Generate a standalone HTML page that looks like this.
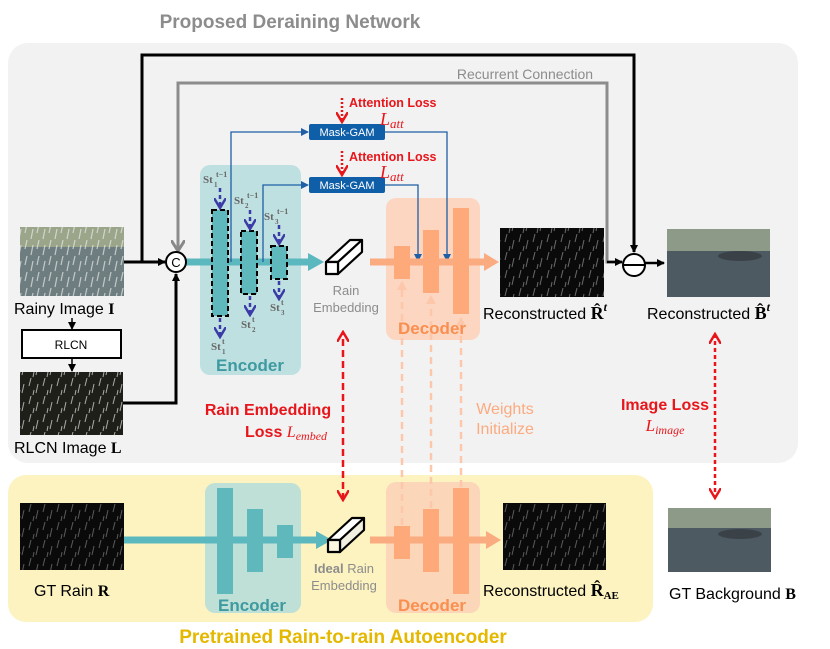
<!DOCTYPE html>
<html><head><meta charset="utf-8"><style>
html,body{margin:0;padding:0;background:#fff;width:830px;height:649px;overflow:hidden}
svg{display:block;font-family:"Liberation Sans","DejaVu Sans",sans-serif}
</style></head><body>
<svg width="830" height="649" viewBox="0 0 830 649" xmlns="http://www.w3.org/2000/svg">
<defs>
<marker id="ab" markerWidth="8" markerHeight="8" refX="7" refY="4" orient="auto" markerUnits="userSpaceOnUse"><path d="M0,0 L8,4 L0,8 z" fill="#000"/></marker>
<marker id="ag" markerWidth="14" markerHeight="14" refX="10" refY="7" orient="auto" markerUnits="userSpaceOnUse"><path d="M0,0 L11,7 L0,14" fill="none" stroke="#888" stroke-width="3"/></marker>
<marker id="abl" markerWidth="8" markerHeight="8" refX="7" refY="4" orient="auto" markerUnits="userSpaceOnUse"><path d="M0,0 L8,4 L0,8 z" fill="#1f5fa6"/></marker>
<marker id="ar" markerWidth="12" markerHeight="12" refX="10" refY="6" orient="auto" markerUnits="userSpaceOnUse"><path d="M0,0 L10,6 L0,12" fill="none" stroke="#e8161b" stroke-width="2.5"/></marker>
<marker id="arf" markerWidth="12" markerHeight="12" refX="10" refY="6" orient="auto-start-reverse" markerUnits="userSpaceOnUse"><path d="M0,0 L10,6 L0,12" fill="none" stroke="#e8161b" stroke-width="2.5"/></marker>
<marker id="ap" markerWidth="10" markerHeight="10" refX="8" refY="5" orient="auto" markerUnits="userSpaceOnUse"><path d="M0,0 L9,5 L0,10 z" fill="#fcc7aa"/></marker>
<marker id="apu" markerWidth="12" markerHeight="12" refX="10" refY="6" orient="auto" markerUnits="userSpaceOnUse"><path d="M0,0 L10,6 L0,12" fill="none" stroke="#3b3ba8" stroke-width="2.5"/></marker>
<pattern id="rain" width="14" height="18" patternUnits="userSpaceOnUse"><path d="M3,0 L1,8 M10,6 L8,15 M6,12 L5,17" stroke="#aaa" stroke-width="1"/></pattern>
<pattern id="rainw" width="12" height="16" patternUnits="userSpaceOnUse"><path d="M3,0 L1,9 M9,5 L7,15" stroke="#e8e8e8" stroke-width="1.2"/></pattern>
</defs>
<text x="290" y="28" text-anchor="middle" font-size="19" font-weight="bold" fill="#8c8c8c">Proposed Deraining Network</text>
<rect x="8" y="43" width="790" height="420" rx="20" fill="#f2f2f2"/>
<rect x="8" y="475" width="645" height="147" rx="18" fill="#fdf3c0"/>
<text x="343" y="643" text-anchor="middle" font-size="19" font-weight="bold" fill="#e5b800">Pretrained Rain-to-rain Autoencoder</text>

<rect x="200" y="165" width="101" height="210" rx="10" fill="#bfe0e0"/>
<rect x="386" y="198" width="94" height="142" rx="10" fill="#fcd6c0"/>
<rect x="205" y="483" width="96" height="130" rx="10" fill="#bfe0d6"/>
<rect x="386" y="482" width="94" height="131" rx="10" fill="#fcd6b8"/>

<rect x="20" y="227" width="104" height="69" fill="#6e7e80"/>
<rect x="20" y="227" width="104" height="20" fill="#9aa58a"/>
<rect x="20" y="227" width="104" height="69" fill="url(#rainw)" opacity="0.7"/>
<rect x="20" y="372" width="103" height="63" fill="#1f1f1a"/>
<rect x="20" y="372" width="103" height="63" fill="url(#rain)"/>
<rect x="500" y="228" width="104" height="69" fill="#0a0a0a"/>
<rect x="500" y="228" width="104" height="69" fill="url(#rain)" opacity="0.6"/>
<rect x="667" y="229" width="103" height="68" fill="#4d5a62"/>
<rect x="667" y="229" width="103" height="22" fill="#8e9a88"/>
<ellipse cx="740" cy="256" rx="22" ry="5" fill="#3a4248"/>
<rect x="20" y="503" width="104" height="67" fill="#0a0a0a"/>
<rect x="20" y="503" width="104" height="67" fill="url(#rain)" opacity="0.5"/>
<rect x="503" y="503" width="103" height="67" fill="#0a0a0a"/>
<rect x="503" y="503" width="103" height="67" fill="url(#rain)" opacity="0.5"/>
<rect x="668" y="508" width="103" height="64" fill="#4d5a62"/>
<rect x="668" y="508" width="103" height="20" fill="#8e9a88"/>
<ellipse cx="740" cy="534" rx="22" ry="5" fill="#3a4248"/>

<rect x="22" y="330" width="99" height="28" fill="#fff" stroke="#000" stroke-width="2"/>
<text x="71" y="349" text-anchor="middle" font-size="12">RLCN</text>
<line x1="72" y1="318" x2="72" y2="329" stroke="#000" stroke-width="1.5" marker-end="url(#ab)"/>
<line x1="72" y1="358" x2="72" y2="371" stroke="#000" stroke-width="1.5" marker-end="url(#ab)"/>

<line x1="124" y1="262" x2="165" y2="262" stroke="#000" stroke-width="3" marker-end="url(#ab)"/>
<polyline points="123,403 176,403 176,274" fill="none" stroke="#000" stroke-width="3" marker-end="url(#ab)"/>
<polyline points="142,262 142,55 634,55 634,252" fill="none" stroke="#000" stroke-width="3" marker-end="url(#ab)"/>
<polyline points="178,250 178,83 607,83 607,262 622,262" fill="none" stroke="#8c8c8c" stroke-width="3"/>
<line x1="607" y1="262" x2="622" y2="262" stroke="#000" stroke-width="2.5" marker-end="url(#ab)"/>
<line x1="178" y1="236" x2="178" y2="250" stroke="#8c8c8c" stroke-width="3" marker-end="url(#ag)"/>
<line x1="645" y1="263" x2="664" y2="263" stroke="#000" stroke-width="2.5" marker-end="url(#ab)"/>
<text x="525" y="79" text-anchor="middle" font-size="14" fill="#8c8c8c">Recurrent Connection</text>

<line x1="186" y1="262" x2="310" y2="262" stroke="#5cb8bf" stroke-width="7"/>
<path d="M308,253 L324,262 L308,271 z" fill="#5cb8bf"/>
<line x1="124" y1="540" x2="318" y2="540" stroke="#5cb8bf" stroke-width="7"/>
<path d="M316,531 L332,540 L316,549 z" fill="#5cb8bf"/>
<circle cx="176" cy="262" r="10" fill="#fff" stroke="#000" stroke-width="2"/>
<text x="176" y="267" text-anchor="middle" font-size="13">C</text>
<circle cx="634" cy="265" r="11" fill="#fff" stroke="#000" stroke-width="2"/>
<line x1="623" y1="265" x2="645" y2="265" stroke="#000" stroke-width="2"/>

<rect x="212" y="210" width="16" height="106" fill="#5fb8bc" stroke="#000" stroke-width="2" stroke-dasharray="5,3"/>
<rect x="241" y="231" width="16" height="63" fill="#5fb8bc" stroke="#000" stroke-width="2" stroke-dasharray="5,3"/>
<rect x="271" y="246" width="16" height="33" fill="#5fb8bc" stroke="#000" stroke-width="2" stroke-dasharray="5,3"/>
<g stroke="#3b3ba8" stroke-width="2.5" stroke-dasharray="4,3" fill="none">
<line x1="220" y1="188" x2="220" y2="208" marker-end="url(#apu)"/>
<line x1="220" y1="318" x2="220" y2="337" marker-end="url(#apu)"/>
<line x1="250" y1="210" x2="250" y2="229" marker-end="url(#apu)"/>
<line x1="250" y1="296" x2="250" y2="315" marker-end="url(#apu)"/>
<line x1="279" y1="225" x2="279" y2="244" marker-end="url(#apu)"/>
<line x1="279" y1="281" x2="279" y2="299" marker-end="url(#apu)"/>
</g>
<g font-family="Liberation Serif,serif" font-weight="bold" fill="#666">
<text x="203" y="183" font-size="11">St</text><text x="214" y="187" font-size="7">1</text><text x="216" y="177" font-size="8">t−1</text>
<text x="234" y="204" font-size="11">St</text><text x="245" y="208" font-size="7">2</text><text x="247" y="198" font-size="8">t−1</text>
<text x="264" y="220" font-size="11">St</text><text x="275" y="224" font-size="7">3</text><text x="277" y="214" font-size="8">t−1</text>
<text x="211" y="350" font-size="11">St</text><text x="222" y="354" font-size="7">1</text><text x="222" y="344" font-size="8">t</text>
<text x="241" y="328" font-size="11">St</text><text x="252" y="332" font-size="7">2</text><text x="252" y="322" font-size="8">t</text>
<text x="270" y="311" font-size="11">St</text><text x="281" y="315" font-size="7">3</text><text x="281" y="305" font-size="8">t</text>
</g>
<text x="250" y="371" text-anchor="middle" font-size="17" font-weight="bold" fill="#3e9aa0">Encoder</text>

<polyline points="231,262 231,132 308,132" fill="none" stroke="#1f5fa6" stroke-width="1.3" marker-end="url(#abl)"/>
<polyline points="263,262 263,185 308,185" fill="none" stroke="#1f5fa6" stroke-width="1.3" marker-end="url(#abl)"/>
<polyline points="385,132 447,132 447,261" fill="none" stroke="#1f5fa6" stroke-width="1.3" marker-end="url(#abl)"/>
<polyline points="385,185 418,185 418,261" fill="none" stroke="#1f5fa6" stroke-width="1.3" marker-end="url(#abl)"/>
<rect x="309" y="124" width="76" height="16" rx="2" fill="#0f5ea8"/>
<text x="347" y="136" text-anchor="middle" font-size="11" fill="#fff">Mask-GAM</text>
<rect x="309" y="177" width="76" height="16" rx="2" fill="#0f5ea8"/>
<text x="347" y="189" text-anchor="middle" font-size="11" fill="#fff">Mask-GAM</text>
<line x1="342" y1="98" x2="342" y2="122" stroke="#e8161b" stroke-width="2.5" stroke-dasharray="2,2" marker-end="url(#ar)"/>
<line x1="342" y1="151" x2="342" y2="175" stroke="#e8161b" stroke-width="2.5" stroke-dasharray="2,2" marker-end="url(#ar)"/>
<text x="349" y="107" font-size="12.5" font-weight="bold" fill="#e8161b">Attention Loss</text>
<text x="380" y="125" font-family="Liberation Serif,serif" font-style="italic" font-size="18" fill="#e8161b">L<tspan font-size="13" dy="3">att</tspan></text>
<text x="349" y="161" font-size="12.5" font-weight="bold" fill="#e8161b">Attention Loss</text>
<text x="380" y="178" font-family="Liberation Serif,serif" font-style="italic" font-size="18" fill="#e8161b">L<tspan font-size="13" dy="3">att</tspan></text>

<line x1="370" y1="262" x2="486" y2="262" stroke="#fbab80" stroke-width="7"/>
<path d="M484,253 L499,262 L484,271 z" fill="#fbab80"/>
<line x1="370" y1="540" x2="488" y2="540" stroke="#fbab80" stroke-width="7"/>
<path d="M486,531 L501,540 L486,549 z" fill="#fbab80"/>
<g fill="#fea97a">
<rect x="394" y="246" width="16" height="33"/><rect x="423" y="230" width="16" height="63"/><rect x="453" y="208" width="16" height="106"/>
<rect x="394" y="526" width="16" height="33"/><rect x="423" y="509" width="16" height="63"/><rect x="453" y="488" width="16" height="106"/>
</g>
<g stroke="#fcc7aa" stroke-width="2.5" stroke-dasharray="7,5">
<line x1="402" y1="525" x2="402" y2="282" marker-end="url(#ap)"/>
<line x1="431" y1="508" x2="431" y2="296" marker-end="url(#ap)"/>
<line x1="461" y1="487" x2="461" y2="318" marker-end="url(#ap)"/>
</g>
<text x="432" y="334" text-anchor="middle" font-size="17" font-weight="bold" fill="#f98f50">Decoder</text>
<text x="432" y="611" text-anchor="middle" font-size="17" font-weight="bold" fill="#f98f50">Decoder</text>

<g fill="#5fb8bc"><rect x="217" y="488" width="16" height="106"/><rect x="247" y="509" width="16" height="63"/><rect x="277" y="525" width="16" height="33"/></g>
<text x="252" y="611" text-anchor="middle" font-size="17" font-weight="bold" fill="#3e9aa0">Encoder</text>

<g stroke="#000" stroke-width="2.2" stroke-linejoin="round">
<path d="M326,262 L350,240 L362,240 L338,262 z" fill="#fff"/>
<path d="M338,262 L362,240 L362,252 L338,274 z" fill="#fff"/>
<rect x="326" y="262" width="12" height="12" fill="#fff"/>
<path d="M328,540 L352,518 L364,518 L340,540 z" fill="#fff"/>
<path d="M340,540 L364,518 L364,530 L340,552 z" fill="#f0efe0"/>
<rect x="328" y="540" width="12" height="12" fill="#fff8e0"/>
</g>
<text x="346" y="295" text-anchor="middle" font-size="13" fill="#8c8c8c">Rain</text>
<text x="346" y="312" text-anchor="middle" font-size="13" fill="#8c8c8c">Embedding</text>
<text x="344" y="573" text-anchor="middle" font-size="13" fill="#8c8c8c"><tspan font-weight="bold">Ideal</tspan> Rain</text>
<text x="344" y="590" text-anchor="middle" font-size="13" fill="#8c8c8c">Embedding</text>

<line x1="343" y1="500" x2="343" y2="332" stroke="#e8161b" stroke-width="2.5" stroke-dasharray="7,4" marker-start="url(#arf)" marker-end="url(#arf)"/>
<line x1="715" y1="334" x2="715" y2="498" stroke="#e8161b" stroke-width="2.5" stroke-dasharray="4,3" marker-start="url(#arf)" marker-end="url(#arf)"/>
<text x="268" y="415" text-anchor="middle" font-size="16" font-weight="bold" fill="#e8161b">Rain Embedding</text>
<text x="245" y="437" font-size="16" font-weight="bold" fill="#e8161b">Loss <tspan font-family="Liberation Serif,serif" font-style="italic" font-weight="normal">L<tspan font-size="12" dy="3">embed</tspan></tspan></text>
<text x="665" y="410" text-anchor="middle" font-size="16" font-weight="bold" fill="#e8161b">Image Loss</text>
<text x="665" y="431" text-anchor="middle" font-family="Liberation Serif,serif" font-style="italic" font-size="17" fill="#e8161b">L<tspan font-size="12" dy="3">image</tspan></text>
<text x="505" y="414" text-anchor="middle" font-size="16" fill="#fbab80">Weights</text>
<text x="505" y="434" text-anchor="middle" font-size="16" fill="#fbab80">Initialize</text>

<g font-size="16" fill="#000">
<text x="14" y="314">Rainy Image <tspan font-family="Liberation Serif,serif" font-weight="bold">I</tspan></text>
<text x="14" y="453">RLCN Image <tspan font-family="Liberation Serif,serif" font-weight="bold">L</tspan></text>
<text x="483" y="319">Reconstructed <tspan font-family="Liberation Serif,serif" font-weight="bold" font-size="18">R̂</tspan><tspan font-family="Liberation Serif,serif" font-weight="bold" font-style="italic" font-size="12" dy="-8">t</tspan></text>
<text x="647" y="319">Reconstructed <tspan font-family="Liberation Serif,serif" font-weight="bold" font-size="18">B̂</tspan><tspan font-family="Liberation Serif,serif" font-weight="bold" font-style="italic" font-size="12" dy="-8">t</tspan></text>
<text x="34" y="596">GT Rain <tspan font-family="Liberation Serif,serif" font-weight="bold">R</tspan></text>
<text x="483" y="596">Reconstructed <tspan font-family="Liberation Serif,serif" font-weight="bold" font-size="18">R̂</tspan><tspan font-family="Liberation Serif,serif" font-weight="bold" font-size="11" dy="3">AE</tspan></text>
<text x="669" y="599">GT Background <tspan font-family="Liberation Serif,serif" font-weight="bold">B</tspan></text>
</g>
</svg>
</body></html>
